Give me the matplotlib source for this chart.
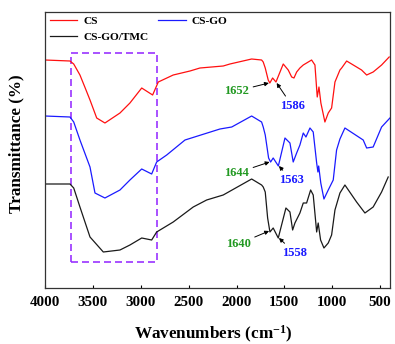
import numpy as np
import matplotlib
matplotlib.use('Agg')
import matplotlib.pyplot as plt
from matplotlib.patches import Rectangle

plt.rcParams['font.family'] = 'Liberation Serif'
plt.rcParams['font.weight'] = 'bold'
plt.rcParams['axes.labelweight'] = 'bold'
plt.rcParams['mathtext.fontset'] = 'custom'
plt.rcParams['mathtext.rm'] = 'Liberation Serif:bold'
plt.rcParams['mathtext.bf'] = 'Liberation Serif:bold'
plt.rcParams['mathtext.it'] = 'Liberation Serif:bold:italic'

# FTIR spectra (wavenumber in cm-1, transmittance in arbitrary offset units)
cs_wn = [4000, 3739, 3700, 3635, 3580, 3530, 3460, 3374, 3217, 3113, 2990, 2876, 2817, 2661,
         2486, 2382, 2139, 2069, 1842, 1738, 1721, 1700, 1669, 1652, 1623, 1588, 1512, 1460,
         1424, 1400, 1372, 1338, 1303, 1268, 1216, 1181, 1157, 1139, 1119, 1077, 1042, 1007,
         972, 920, 902, 850, 694, 641, 573, 485, 406]
cs_t = [228, 227, 224, 213, 200, 188, 170, 165, 175, 185, 200, 193, 206, 213,
        217, 220, 222, 224, 229, 228, 226, 220, 208, 205, 210, 206, 224, 218,
        211, 210, 216, 220, 223, 225, 228, 223, 191, 201, 185, 166, 175, 180,
        206, 218, 220, 227, 218, 213, 216, 223, 231]

go_wn = [4000, 3739, 3700, 3635, 3530, 3478, 3374, 3217, 3113, 2990, 2886, 2834, 2729, 2538,
         2173, 2050, 1842, 1738, 1721, 1700, 1665, 1644, 1617, 1563, 1494, 1442, 1408, 1372,
         1338, 1303, 1275, 1233, 1199, 1163, 1150, 1142, 1120, 1087, 1042, 990, 955, 920,
         868, 677, 641, 573, 485, 398]
go_t = [172, 171, 166, 148, 121, 95, 90, 98, 108, 119, 114, 126, 133, 148,
        159, 161, 172, 166, 161, 153, 130, 126, 130, 122, 150, 145, 126, 135,
        143, 155, 151, 160, 156, 125, 116, 122, 105, 89, 98, 108, 138, 149,
        160, 148, 140, 141, 161, 170]

tmc_wn = [4000, 3739, 3700, 3635, 3530, 3391, 3217, 3113, 2990, 2886, 2834, 2661, 2452, 2312,
          2139, 1842, 1738, 1721, 1700, 1675, 1651, 1617, 1564, 1484, 1442, 1414, 1390, 1338,
          1303, 1268, 1226, 1199, 1163, 1147, 1122, 1087, 1042, 1007, 972, 920, 868, 746,
          659, 573, 485, 416]
tmc_t = [104, 104, 100, 81, 51, 36, 38, 43, 50, 48, 56, 66, 81, 88,
         93, 109, 103, 101, 96, 70, 56, 60, 50, 80, 76, 58, 65, 75,
         85, 85, 98, 93, 56, 65, 48, 40, 45, 53, 78, 95, 103, 86,
         75, 81, 96, 111]

xticks = [4000, 3500, 3000, 2500, 2000, 1500, 1000, 500]

# peak labels: (text, text pos, arrow tip, colour)
peaks = [('1652', (1999, 197), (1662, 205), '#229922'),
         ('1586', (1418, 182), (1581, 205), '#1a1aff'),
         ('1644', (1999, 115), (1655, 126), '#229922'),
         ('1563', (1425, 108), (1557, 122), '#1a1aff'),
         ('1640', (1982, 44), (1660, 57), '#229922'),
         ('1558', (1390, 35), (1557, 50), '#1a1aff')]

fig = plt.figure(figsize=(3.95, 3.44), dpi=100)
ax = fig.add_axes([0.1139, 0.1628, 0.8747, 0.8023])

l1, = ax.plot(cs_wn, cs_t, color='#ff1010', lw=0.9, label='CS')
l2, = ax.plot(go_wn, go_t, color='#1a1aff', lw=0.9, label='CS-GO')
l3, = ax.plot(tmc_wn, tmc_t, color='#1a1a1a', lw=0.9, label='CS-GO/TMC')

ax.add_patch(Rectangle((3732, 26.3), 2834 - 3732, 234.7 - 26.3, fill=False,
                       edgecolor='#9933ff', lw=1.2, ls=(0, (4.2, 2.4))))

for txt, xy_t, xy_a, c in peaks:
    ax.annotate(txt, xy=xy_a, xytext=xy_t, color=c, fontsize=9, fontweight='bold',
                ha='center', va='center',
                arrowprops=dict(arrowstyle='-|>', color='black', lw=0.7, mutation_scale=6,
                                shrinkA=1, shrinkB=0))

ax.set_xlim(4000, 392)
ax.set_ylim(0, 276)
ax.set_xticks(xticks)
ax.set_xticklabels([str(t) for t in xticks], fontweight='bold')
ax.set_yticks([])
ax.tick_params(axis='x', direction='in', length=2.5, width=0.8, labelsize=10.8, pad=5.5)
for s in ax.spines.values():
    s.set_linewidth(0.9)
    s.set_color('#333333')

ax.set_xlabel('Wavenumbers (cm$^{-1}$)', fontsize=12.3, fontweight='bold')
ax.set_ylabel('Transmittance (%)', fontsize=12.3, fontweight='bold')
ax.xaxis.set_label_coords(0.488, -0.13)
ax.yaxis.set_label_coords(-0.061, 0.524)

ax.legend(handles=[l1, l3, l2], loc='upper left', bbox_to_anchor=(0.0145, 0.985), ncol=2,
          frameon=False, prop={'size': 8.2, 'weight': 'bold'}, handlelength=2.4,
          handletextpad=0.5, columnspacing=0.9, labelspacing=0.55, borderpad=0,
          borderaxespad=0)

plt.savefig('out.png', dpi=100)
